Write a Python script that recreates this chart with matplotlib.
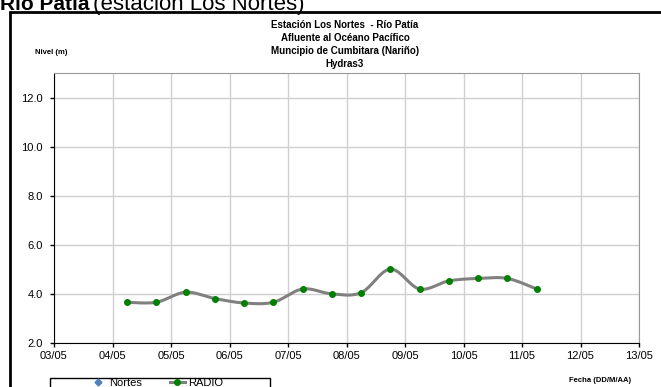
import numpy as np
import matplotlib
matplotlib.use("Agg")
import matplotlib.pyplot as plt
import matplotlib.dates as mdates
from matplotlib.patches import Rectangle
from datetime import datetime, timedelta

plt.rcParams['font.family'] = ['Liberation Sans', 'DejaVu Sans']

# datos (nivel en m, cada 12 h desde el 04/05 06:00)
start = datetime(2010, 5, 4, 6, 0)
fechas = [start + timedelta(hours=12 * i) for i in range(15)]
radio = [3.66, 3.66, 4.07, 3.81, 3.63, 3.66, 4.20, 4.00, 4.05, 5.01,
         4.20, 4.53, 4.63, 4.63, 4.20]
nortes = []
title_lines = ["Estación Los Nortes  - Río Patía",
               "Afluente al Océano Pacífico",
               "Muncipio de Cumbitara (Nariño)",
               "Hydras3"]


def smooth(x, y, n=20):
    # curva suavizada tipo Excel (Catmull-Rom)
    x = np.asarray(x, float)
    y = np.asarray(y, float)
    px = np.concatenate([[x[0]], x, [x[-1]]])
    py = np.concatenate([[y[0]], y, [y[-1]]])
    xs, ys = [], []
    t = np.linspace(0, 1, n)
    for i in range(1, len(px) - 2):
        p0, p1, p2, p3 = px[i - 1], px[i], px[i + 1], px[i + 2]
        q0, q1, q2, q3 = py[i - 1], py[i], py[i + 1], py[i + 2]
        c1x, c1y = p1 + (p2 - p0) / 6, q1 + (q2 - q0) / 6
        c2x, c2y = p2 - (p3 - p1) / 6, q2 - (q3 - q1) / 6
        bx = (1 - t)**3 * p1 + 3 * (1 - t)**2 * t * c1x + 3 * (1 - t) * t**2 * c2x + t**3 * p2
        by = (1 - t)**3 * q1 + 3 * (1 - t)**2 * t * c1y + 3 * (1 - t) * t**2 * c2y + t**3 * q2
        xs.extend(bx)
        ys.extend(by)
    return np.array(xs), np.array(ys)


W, H = 661, 387
fig = plt.figure(figsize=(W / 100, H / 100), dpi=100)
ax = fig.add_axes([54 / W, 1 - 343 / H, (639 - 54) / W, (343 - 73) / H])

xn = mdates.date2num(fechas)
sx, sy = smooth(xn, radio)
ax.plot(mdates.date2num([]), nortes, 'D', color='#4f81bd', ms=3.5, label='Nortes')
ax.plot(sx, sy, color='#808080', lw=2.2, zorder=3)
ax.plot(xn, radio, 'o', color='#008000', ms=4, zorder=4)
ax.plot([], [], color='#808080', lw=2.2, marker='o', mfc='#008000',
        mec='#008000', ms=4, label='RADIO')

ax.set_xlim(mdates.date2num(datetime(2010, 5, 3)), mdates.date2num(datetime(2010, 5, 13)))
ax.set_ylim(2, 13)
ax.set_yticks(np.arange(2, 13, 2))
ax.yaxis.set_major_formatter(matplotlib.ticker.FormatStrFormatter('%.1f'))
ax.xaxis.set_major_locator(mdates.DayLocator())
ax.xaxis.set_major_formatter(mdates.DateFormatter('%d/%m'))
ax.grid(True, color='#d0d0d0', lw=1)
ax.set_axisbelow(True)
ax.tick_params(labelsize=8, length=3, width=1)
ax.tick_params(axis='y', pad=5)
ax.tick_params(axis='x', pad=3)
for s in ['top', 'right']:
    ax.spines[s].set_color('#999999')
for s in ['left', 'bottom']:
    ax.spines[s].set_color('black')

for i, line in enumerate(title_lines):
    fig.text(345 / W, 1 - (25 + 13 * i) / H, line, ha='center', va='center',
             fontsize=7, fontweight='bold')
fig.text(35 / W, 1 - 53 / H, "Nivel (m)", fontsize=5.5, fontweight='bold',
         va='center')
fig.text(600 / W, 1 - 380 / H, "Fecha (DD/M/AA)", fontsize=5.5,
         fontweight='bold', ha='center', va='center')

fig.text(0, 1 - 10 / H, "Río Patía", fontsize=15, fontweight='bold', va='baseline')
fig.text(93 / W, 1 - 10 / H, "(estación Los Nortes)", fontsize=16, va='baseline')

# marco exterior del grafico
fig.patches.append(Rectangle((10 / W, -0.1), 2, 1.1 - 12 / H,
                             transform=fig.transFigure, fill=False,
                             edgecolor='black', lw=2))
# marco de la leyenda
fig.patches.append(Rectangle((50 / W, -0.1), 220 / W, 0.1 + 1 - 378 / H,
                             transform=fig.transFigure, fill=False,
                             edgecolor='black', lw=1))

leg = fig.legend(loc='upper left', bbox_to_anchor=(90 / W, 1 - 378 / H), ncol=2,
                 fontsize=8, frameon=False, borderpad=0, borderaxespad=0,
                 handlelength=1.4, columnspacing=2.5, handletextpad=0.3)

plt.savefig("out.png", dpi=100)
plt.close()
